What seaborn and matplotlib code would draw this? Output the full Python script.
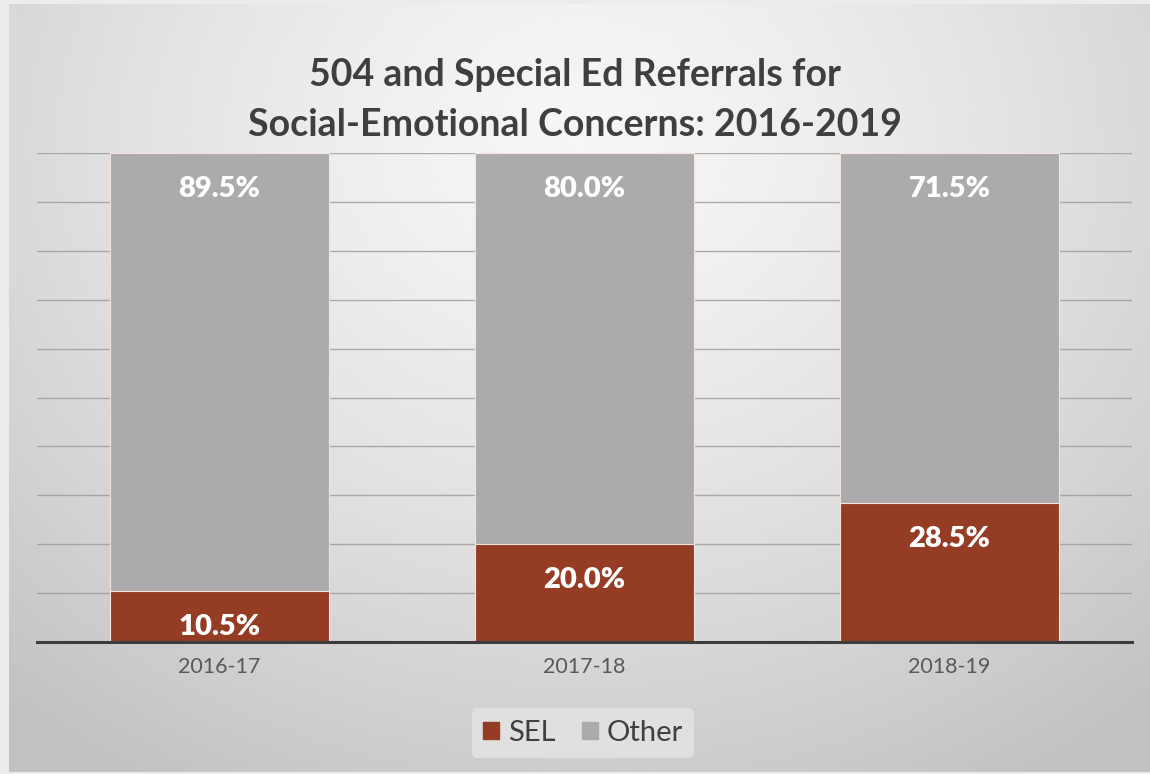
import numpy as np
import pandas as pd
import matplotlib
matplotlib.use("Agg")
import matplotlib.pyplot as plt
import seaborn as sns

# Data
years = ["2016-17", "2017-18", "2018-19"]
sel_pct = [10.5, 20.0, 28.5]
other_pct = [89.5, 80.0, 71.5]
series_names = ["SEL", "Other"]
series_colors = ["#943C24", "#ABABAB"]

title_text = "504 and Special Ed Referrals for\nSocial-Emotional Concerns: 2016-2019"

sns.set_theme(style="white")
plt.rcParams["font.family"] = ["Lato", "DejaVu Sans"]

W, H = 1150, 774
fig = plt.figure(figsize=(W / 100, H / 100), dpi=100)
fig.patch.set_facecolor("#ececec")

# Radial-gradient backdrop
bg = fig.add_axes([9 / W, 2 / H, 1 - 9 / W, 1 - 6 / H], zorder=-10)
yy, xx = np.mgrid[0:1:300j, 0:1:400j]
d = np.sqrt(((xx - 0.5) / 0.75) ** 2 + ((yy - 0.82) / 0.95) ** 2)
shade = np.clip(0.965 - 0.20 * d ** 1.4, 0.76, 1.0)
bg.imshow(shade, cmap="gray", vmin=0, vmax=1, origin="lower", aspect="auto",
          extent=[0, 1, 0, 1], interpolation="bicubic")
bg.set_axis_off()

# Plot area
left, right = 37 / W, 1132 / W
bottom, top = 1 - 642 / H, 1 - 153 / H
ax = fig.add_axes([left, bottom, right - left, top - bottom])
ax.patch.set_alpha(0)

df = pd.DataFrame({"year": years, "SEL": sel_pct, "Other": other_pct})
df["total"] = df["SEL"] + df["Other"]

# Stacked bars: draw the full stack first, then the SEL portion on top
sns.barplot(data=df, x="year", y="total", color=series_colors[1], width=0.6,
            saturation=1, edgecolor="#f4e4dc", linewidth=0.8, ax=ax, zorder=2)
sns.barplot(data=df, x="year", y="SEL", color=series_colors[0], width=0.6,
            saturation=1, edgecolor="#f4e4dc", linewidth=0.8, ax=ax, zorder=3)

ax.set_ylim(0, 100)
ax.set_xlim(-0.5, 2.5)
ax.set_yticks(np.arange(0, 101, 10))
ax.yaxis.grid(True, color="#9a9a9a", linewidth=1.0, alpha=0.8, zorder=0)
ax.set_axisbelow(True)
ax.tick_params(axis="y", left=False, labelleft=False)
ax.tick_params(axis="x", bottom=False, labelsize=15.5, labelcolor="#595959", pad=5)
for s in ["top", "right", "left"]:
    ax.spines[s].set_visible(False)
ax.spines["bottom"].set_color("#3c3c3c")
ax.spines["bottom"].set_linewidth(2.2)
ax.spines["bottom"].set_zorder(5)
ax.set_xlabel("")
ax.set_ylabel("")

# Value labels near the top of each segment
for i in range(len(years)):
    ax.annotate(f"{sel_pct[i]:.1f}%", (i, sel_pct[i]), xytext=(0, -26),
                textcoords="offset points", ha="center", va="center",
                color="white", fontsize=21, fontweight="heavy", zorder=6)
    ax.annotate(f"{other_pct[i]:.1f}%", (i, sel_pct[i] + other_pct[i]),
                xytext=(0, -26), textcoords="offset points", ha="center",
                va="center", color="white", fontsize=21, fontweight="heavy",
                zorder=6)

fig.text(0.5, 1 - 100 / H, title_text, ha="center", va="center",
         fontsize=27, fontweight="bold", color="#3f3f3f", linespacing=1.55)

handles = [plt.Rectangle((0, 0), 1, 1, color=c) for c in series_colors]
leg = fig.legend(handles, series_names, loc="center", bbox_to_anchor=(583 / W, 1 - 733 / H),
                 ncol=2, frameon=True, fontsize=21, handlelength=0.55, handleheight=0.55,
                 handletextpad=0.3, columnspacing=0.9, borderpad=0.4)
leg.get_frame().set_facecolor("#e2e2e2")
leg.get_frame().set_edgecolor("none")
leg.get_frame().set_alpha(0.9)
for t in leg.get_texts():
    t.set_color("#404040")

fig.savefig("out.png", dpi=100)
